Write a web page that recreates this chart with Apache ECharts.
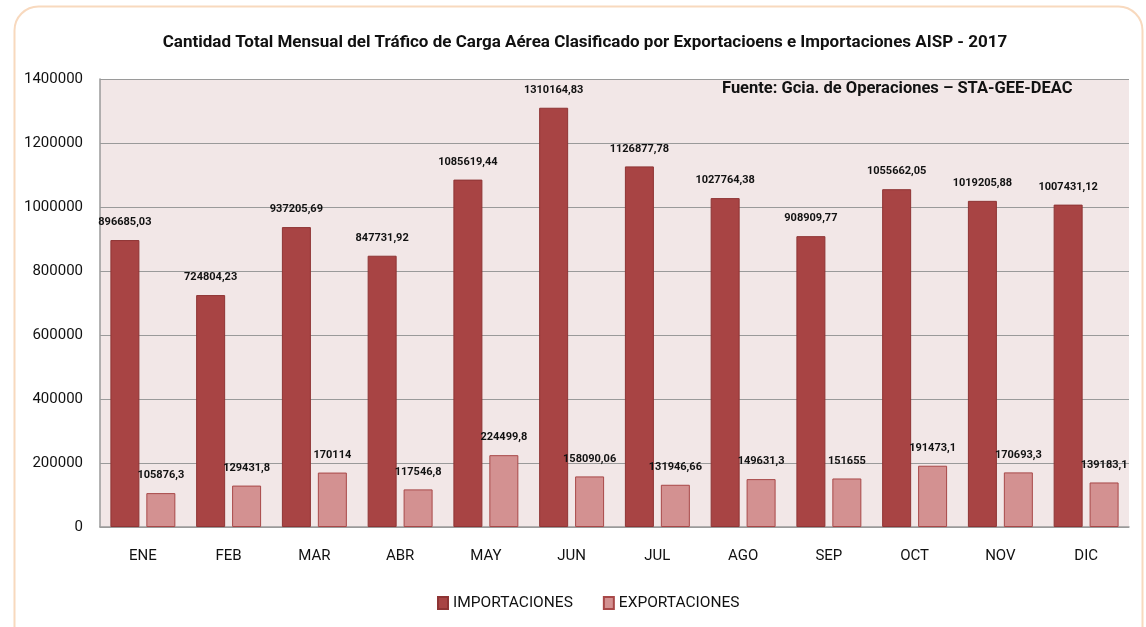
<!DOCTYPE html>
<html>
<head>
<meta charset="utf-8">
<script src="https://cdn.jsdelivr.net/npm/echarts@6/dist/echarts.min.js"></script>
<style>
  html, body { margin: 0; padding: 0; background: #ffffff; }
  #chart { width: 1146px; height: 627px; }
</style>
</head>
<body>
<div id="chart"></div>
<script>
// Monthly cargo traffic, AISP 2017
const months = ['ENE', 'FEB', 'MAR', 'ABR', 'MAY', 'JUN', 'JUL', 'AGO', 'SEP', 'OCT', 'NOV', 'DIC'];
const importaciones = [896685.03, 724804.23, 937205.69, 847731.92, 1085619.44, 1310164.83, 1126877.78, 1027764.38, 908909.77, 1055662.05, 1019205.88, 1007431.12];
const exportaciones = [105876.3, 129431.8, 170114, 117546.8, 224499.8, 158090.06, 131946.66, 149631.3, 151655, 191473.1, 170693.3, 139183.1];
const seriesNames = ['IMPORTACIONES', 'EXPORTACIONES'];
const titleText = 'Cantidad Total Mensual del Tráfico de Carga Aérea Clasificado por Exportacioens e Importaciones AISP - 2017';
const sourceText = 'Fuente: Gcia. de Operaciones – STA-GEE-DEAC';

const FONT = "Roboto, 'Noto Sans', sans-serif";
const fmt = v => String(v).replace('.', ',');

const chart = echarts.init(document.getElementById('chart'), null, { renderer: 'canvas' });

const labelStyle = {
  show: true,
  position: 'top',
  distance: 12,
  fontFamily: FONT,
  fontWeight: 'bold',
  fontSize: 11,
  color: '#111',
  formatter: p => fmt(p.value)
};

chart.setOption({
  backgroundColor: '#ffffff',
  animation: false,
  title: {
    text: titleText,
    left: 580,
    textAlign: 'center',
    top: 29,
    textStyle: { fontFamily: FONT, fontWeight: 'bold', fontSize: 17, color: '#111' }
  },
  graphic: [
    {
      type: 'rect',
      shape: { x: 14.5, y: 6.5, width: 1128, height: 660, r: 24 },
      style: { fill: 'none', stroke: '#F8D9BE', lineWidth: 2 },
      silent: true,
      z: -1
    },
    {
      type: 'text',
      left: 722,
      top: 80,
      style: { text: sourceText, font: "bold 16.5px " + FONT, fill: '#111' },
      z: 10
    }
  ],
  legend: {
    data: seriesNames,
    bottom: 11,
    left: 432,
    itemWidth: 10,
    itemHeight: 12,
    itemGap: 30,
    icon: 'rect',
    textStyle: { fontFamily: FONT, fontSize: 15.5, color: '#111' }
  },
  grid: { left: 100, right: 17, top: 79, bottom: 100, containLabel: false,
          show: true, backgroundColor: '#F2E7E7', borderWidth: 0 },
  xAxis: {
    type: 'category',
    data: months,
    axisLine: { show: true, lineStyle: { color: '#9a9a9a', width: 1.5 } },
    axisTick: { show: false },
    axisLabel: { fontFamily: FONT, fontSize: 15, color: '#111', margin: 22 }
  },
  yAxis: {
    type: 'value',
    min: 0,
    max: 1400000,
    interval: 200000,
    axisLine: { show: true, lineStyle: { color: '#9a9a9a', width: 1.5 } },
    axisTick: { show: false },
    splitLine: { lineStyle: { color: '#9a9a9a', width: 1.2 } },
    axisLabel: { fontFamily: FONT, fontSize: 15, color: '#111', margin: 17, formatter: v => String(v) }
  },
  series: [
    {
      name: seriesNames[0],
      type: 'bar',
      data: importaciones,
      barWidth: 29,
      barGap: '24%',
      itemStyle: { color: '#A84444', borderColor: '#8E3434', borderWidth: 1 },
      label: labelStyle
    },
    {
      name: seriesNames[1],
      type: 'bar',
      data: exportaciones,
      barWidth: 29,
      itemStyle: { color: '#D39191', borderColor: '#A84848', borderWidth: 1 },
      label: labelStyle
    }
  ]
});
</script>
</body>
</html>
